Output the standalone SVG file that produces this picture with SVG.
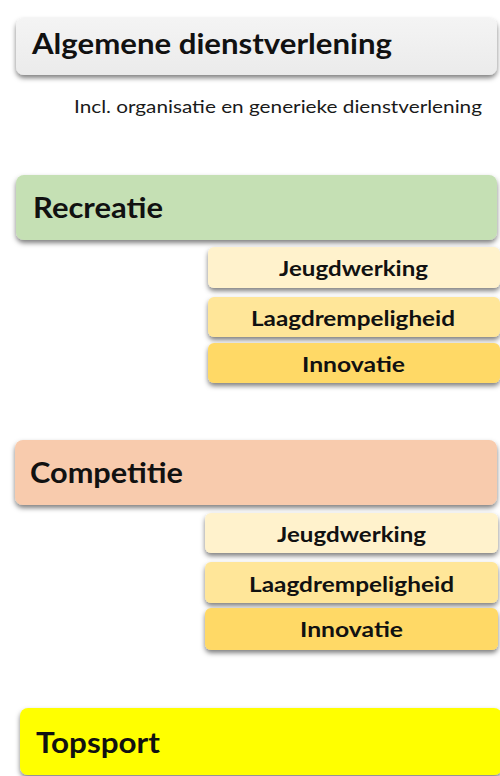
<svg xmlns="http://www.w3.org/2000/svg" width="500" height="776" viewBox="0 0 500 776">
<defs>
<filter id="sh" x="-5%" y="-20%" width="110%" height="160%">
<feDropShadow dx="0" dy="3" stdDeviation="2.5" flood-color="#000" flood-opacity="0.5"/>
</filter>
<linearGradient id="gray" x1="0" y1="0" x2="0" y2="1">
<stop offset="0" stop-color="#f4f4f4"/><stop offset="1" stop-color="#ebebeb"/>
</linearGradient>
</defs>
<style>
text{font-family:Lato,"Open Sans","Liberation Sans",sans-serif;fill:#111}
.h{font-weight:bold;font-size:28px}
.s{font-weight:bold;font-size:21px;text-anchor:middle}
.n{font-size:17px;fill:#1a1a1a}
.box{filter:url(#sh)}
</style>
<rect width="500" height="776" fill="#fff"/>
<g id="algemene">
<rect class="box" x="16" y="18" width="481" height="57" rx="8" fill="url(#gray)"/>
<text class="h" x="32" y="54" textLength="360" lengthAdjust="spacingAndGlyphs">Algemene dienstverlening</text>
</g>
<g id="note">
<text class="n" x="74" y="113" textLength="408" lengthAdjust="spacingAndGlyphs">Incl. organisatie en generieke dienstverlening</text>
</g>
<g id="recreatie">
<rect class="box" x="16" y="175" width="481" height="65" rx="8" fill="#c5e0b4"/>
<text class="h" x="33" y="218" textLength="130" lengthAdjust="spacingAndGlyphs">Recreatie</text>
</g>
<g id="rec-jeugd">
<rect class="box" x="208" y="247" width="292" height="41" rx="6" fill="#fff2cc"/>
<text class="s" x="353.5" y="276" textLength="149" lengthAdjust="spacingAndGlyphs">Jeugdwerking</text>
</g>
<g id="rec-laag">
<rect class="box" x="208" y="297" width="292" height="40" rx="6" fill="#ffe699"/>
<text class="s" x="353" y="326" textLength="204" lengthAdjust="spacingAndGlyphs">Laagdrempeligheid</text>
</g>
<g id="rec-innov">
<rect class="box" x="208" y="343" width="292" height="40" rx="6" fill="#ffd966"/>
<text class="s" x="353.5" y="372" textLength="103" lengthAdjust="spacingAndGlyphs">Innovatie</text>
</g>
<g id="competitie">
<rect class="box" x="15" y="440" width="482" height="65" rx="8" fill="#f8cbad"/>
<text class="h" x="30" y="483" textLength="153" lengthAdjust="spacingAndGlyphs">Competitie</text>
</g>
<g id="comp-jeugd">
<rect class="box" x="205" y="513" width="293" height="40" rx="6" fill="#fff2cc"/>
<text class="s" x="351.5" y="542" textLength="149" lengthAdjust="spacingAndGlyphs">Jeugdwerking</text>
</g>
<g id="comp-laag">
<rect class="box" x="205" y="562" width="293" height="41" rx="6" fill="#ffe699"/>
<text class="s" x="351.5" y="592" textLength="205" lengthAdjust="spacingAndGlyphs">Laagdrempeligheid</text>
</g>
<g id="comp-innov">
<rect class="box" x="205" y="608" width="293" height="42" rx="6" fill="#ffd966"/>
<text class="s" x="351.5" y="637" textLength="103" lengthAdjust="spacingAndGlyphs">Innovatie</text>
</g>
<g id="topsport">
<rect class="box" x="20" y="708" width="482" height="67" rx="8" fill="#ffff00"/>
<text class="h" x="36" y="753" textLength="124" lengthAdjust="spacingAndGlyphs">Topsport</text>
</g>
<g id="connectors"/>
</svg>
